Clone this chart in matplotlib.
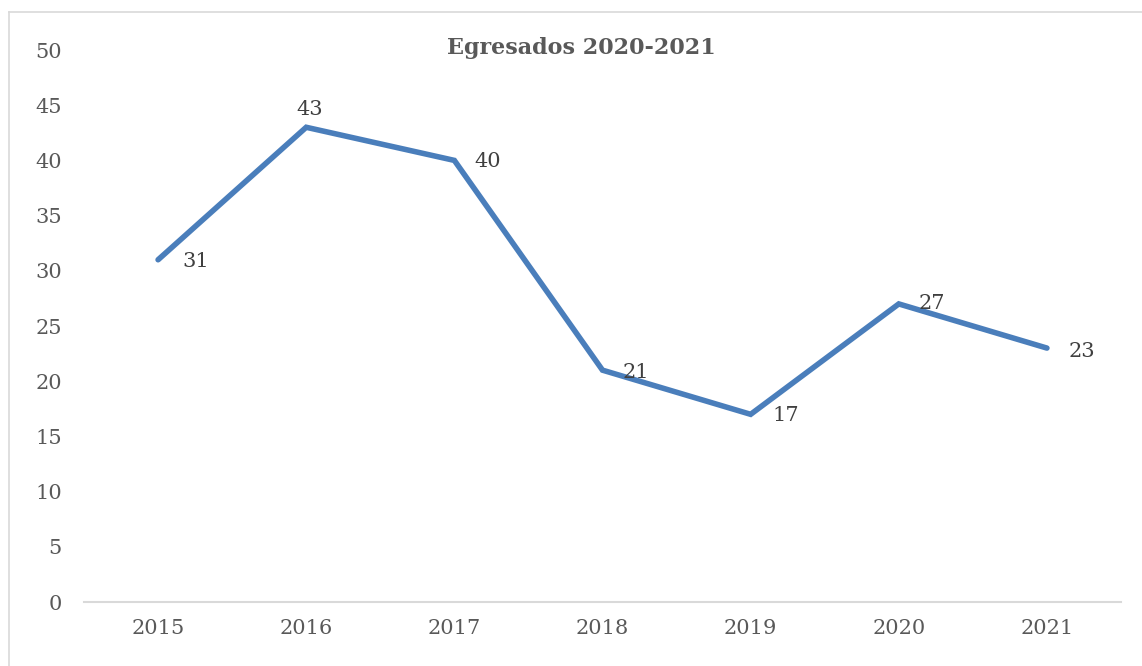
import matplotlib
matplotlib.use('Agg')
import matplotlib.pyplot as plt
from matplotlib.lines import Line2D

# Chart data
years = ['2015', '2016', '2017', '2018', '2019', '2020', '2021']
egresados = [31, 43, 40, 21, 17, 27, 23]
# label offsets in pixels (dx, dy) relative to each point
label_offsets = [(24, -2), (3, 18), (20, -1), (20, -2), (22, -1), (20, 0), (22, -3)]

plt.rcParams['font.family'] = ['DejaVu Serif']
text_color = '#595959'

fig = plt.figure(figsize=(11.42, 6.66), dpi=100)
ax = fig.add_axes([84 / 1142, 64 / 666, (1121 - 84) / 1142, (602 - 50) / 666])

x = range(len(years))
ax.plot(x, egresados, color='#4a7ebb', linewidth=4, solid_joinstyle='miter', solid_capstyle='round')

for i, v in enumerate(egresados):
    dx, dy = label_offsets[i]
    ha = 'center' if i == 1 else 'left'
    ax.annotate(str(v), (i, v), xytext=(dx * 0.72, dy * 0.72), textcoords='offset points',
                ha=ha, va='center', fontsize=15, color='#404040')

ax.set_xlim(-0.5, len(years) - 0.5)
ax.set_ylim(0, 50)
ax.set_yticks(range(0, 51, 5))
ax.set_xticks(list(x))
ax.set_xticklabels(years)
ax.tick_params(axis='both', length=0, labelsize=15, labelcolor=text_color)
ax.tick_params(axis='x', pad=12)
ax.tick_params(axis='y', pad=16)
for s in ['top', 'right', 'left']:
    ax.spines[s].set_visible(False)
ax.spines['bottom'].set_color('#d9d9d9')
ax.spines['bottom'].set_linewidth(1.5)

fig.text(581 / 1142, 1 - 48 / 666, 'Egresados 2020-2021', ha='center', va='center',
         fontsize=16, fontweight='bold', color=text_color)

# chart frame (only left and top edges visible in the crop)
fig.add_artist(Line2D([8.5 / 1142, 8.5 / 1142], [0, 1 - 12 / 666], transform=fig.transFigure,
                      color='#d9d9d9', linewidth=1.2))
fig.add_artist(Line2D([8.5 / 1142, 1], [1 - 12 / 666, 1 - 12 / 666], transform=fig.transFigure,
                      color='#d9d9d9', linewidth=1.2))

fig.savefig('out.png', dpi=100)
